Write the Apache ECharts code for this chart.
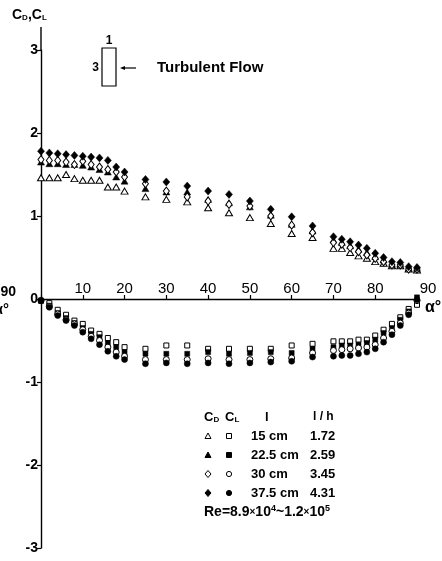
<!DOCTYPE html>
<html>
<head>
<meta charset="utf-8">
<script src="https://cdn.jsdelivr.net/npm/echarts@6/dist/echarts.min.js"></script>
<style>
  html, body { margin: 0; padding: 0; background: #fff; }
  #chart { width: 442px; height: 561px; }
</style>
</head>
<body>
<div id="chart"></div>
<script>
// ---- data ----
const alpha = [0, 2, 4, 6, 8, 10, 12, 14, 16, 18, 20, 25, 30, 35, 40, 45, 50, 55, 60, 65, 70, 72, 74, 76, 78, 80, 82, 84, 86, 88, 90];

// Drag coefficient C_D
const cd15  = [1.46, 1.46, 1.46, 1.50, 1.45, 1.43, 1.43, 1.43, 1.35, 1.35, 1.30, 1.23, 1.20, 1.17, 1.10, 1.04, 0.98, 0.91, 0.79, 0.74, 0.61, 0.61, 0.56, 0.52, 0.49, 0.45, 0.43, 0.40, 0.40, 0.36, 0.35];
const cd225 = [1.65, 1.63, 1.63, 1.62, 1.62, 1.61, 1.59, 1.56, 1.53, 1.47, 1.42, 1.33, 1.29, 1.29, 1.20, 1.16, 1.11, 1.01, 0.90, 0.82, 0.71, 0.68, 0.64, 0.60, 0.56, 0.51, 0.47, 0.42, 0.42, 0.37, 0.37];
const cd30  = [1.68, 1.67, 1.67, 1.65, 1.62, 1.66, 1.62, 1.59, 1.56, 1.53, 1.47, 1.39, 1.30, 1.23, 1.18, 1.14, 1.12, 1.00, 0.89, 0.80, 0.68, 0.66, 0.62, 0.57, 0.53, 0.49, 0.45, 0.41, 0.41, 0.36, 0.36];
const cd375 = [1.78, 1.76, 1.75, 1.74, 1.73, 1.72, 1.71, 1.70, 1.67, 1.59, 1.53, 1.44, 1.41, 1.36, 1.30, 1.26, 1.18, 1.08, 0.99, 0.88, 0.75, 0.72, 0.69, 0.65, 0.61, 0.55, 0.50, 0.45, 0.44, 0.39, 0.38];

// Lift coefficient C_L
const cl15  = [-0.02, -0.05, -0.13, -0.19, -0.26, -0.30, -0.38, -0.42, -0.47, -0.52, -0.58, -0.60, -0.56, -0.56, -0.60, -0.60, -0.60, -0.60, -0.56, -0.54, -0.51, -0.51, -0.51, -0.49, -0.49, -0.44, -0.37, -0.30, -0.22, -0.12, -0.07];
const cl225 = [-0.02, -0.08, -0.17, -0.23, -0.29, -0.35, -0.42, -0.46, -0.53, -0.58, -0.64, -0.66, -0.66, -0.66, -0.64, -0.66, -0.65, -0.64, -0.65, -0.60, -0.58, -0.56, -0.56, -0.55, -0.53, -0.49, -0.41, -0.35, -0.25, -0.15, 0.02];
const cl30  = [-0.02, -0.09, -0.18, -0.25, -0.30, -0.37, -0.45, -0.50, -0.58, -0.64, -0.69, -0.73, -0.73, -0.73, -0.72, -0.73, -0.73, -0.72, -0.71, -0.65, -0.62, -0.61, -0.60, -0.59, -0.58, -0.55, -0.47, -0.39, -0.29, -0.17, -0.02];
const cl375 = [-0.02, -0.10, -0.20, -0.26, -0.32, -0.40, -0.48, -0.55, -0.63, -0.69, -0.73, -0.78, -0.77, -0.78, -0.77, -0.78, -0.77, -0.76, -0.75, -0.70, -0.69, -0.68, -0.68, -0.66, -0.64, -0.60, -0.52, -0.43, -0.32, -0.19, -0.01];

const xTicks = [10, 20, 30, 40, 50, 60, 70, 80, 90];
const yTicks = [-3, -2, -1, 0, 1, 2, 3];

const legendRows = [
  { l: '15 cm',   lh: '1.72' },
  { l: '22.5 cm', lh: '2.59' },
  { l: '30 cm',   lh: '3.45' },
  { l: '37.5 cm', lh: '4.31' }
];

// ---- build ----
const FONT = 'Liberation Sans, Arial, sans-serif';
const pts = vals => alpha.map((a, i) => [a, vals[i]]);
const openStyle  = { color: '#fff', borderColor: '#000', borderWidth: 1, opacity: 1 };
const fillStyle  = { color: '#000', borderColor: '#000', borderWidth: 0.5, opacity: 1 };

function sc(name, vals, symbol, size, style) {
  return {
    type: 'scatter', name, data: pts(vals), symbol, symbolSize: size,
    itemStyle: style, emphasis: { disabled: true }, silent: true
  };
}

const chart = echarts.init(document.getElementById('chart'), null, { renderer: 'canvas' });

// legend marker helpers (pixel decorations)
function tri(cx, cy, filled) {
  return { type: 'polygon', shape: { points: [[cx, cy - 3], [cx + 3, cy + 2.5], [cx - 3, cy + 2.5]] },
           style: { fill: filled ? '#000' : '#fff', stroke: '#000', lineWidth: 1 } };
}
function sq(cx, cy, filled) {
  return { type: 'rect', shape: { x: cx - 2.5, y: cy - 2.5, width: 5, height: 5 },
           style: { fill: filled ? '#000' : '#fff', stroke: '#000', lineWidth: 1 } };
}
function dia(cx, cy, filled) {
  return { type: 'polygon', shape: { points: [[cx, cy - 3.5], [cx + 3, cy], [cx, cy + 3.5], [cx - 3, cy]] },
           style: { fill: filled ? '#000' : '#fff', stroke: '#000', lineWidth: 1 } };
}
function circ(cx, cy, filled) {
  return { type: 'circle', shape: { cx, cy, r: 2.6 },
           style: { fill: filled ? '#000' : '#fff', stroke: '#000', lineWidth: 1 } };
}
function txt(x, y, text, opts) {
  return Object.assign({ type: 'text', x, y,
    style: Object.assign({ text, font: '13px ' + FONT, fill: '#000', textVerticalAlign: 'middle' }, (opts || {})) });
}

const rowY = [436, 455, 474, 493];
const cdMk = [tri, tri, dia, dia];
const clMk = [sq, sq, circ, circ];
const legendGraphics = [];
legendGraphics.push({
  type: 'text', x: 204, y: 417,
  style: { text: '{a|C}{b|D}', rich: { a: { font: 'bold 13px ' + FONT }, b: { font: 'bold 8px ' + FONT, verticalAlign: 'bottom' } }, fill: '#000', textVerticalAlign: 'middle' }
});
legendGraphics.push({
  type: 'text', x: 225, y: 417,
  style: { text: '{a|C}{b|L}', rich: { a: { font: 'bold 13px ' + FONT }, b: { font: 'bold 8px ' + FONT, verticalAlign: 'bottom' } }, fill: '#000', textVerticalAlign: 'middle' }
});
legendGraphics.push(txt(265, 417, 'l', { font: 'bold 13px ' + FONT }));
legendGraphics.push(txt(313, 417, 'l / h', { font: 'bold 12px ' + FONT }));
legendRows.forEach((r, i) => {
  legendGraphics.push(cdMk[i](208, rowY[i], i % 2 === 1));
  legendGraphics.push(clMk[i](229, rowY[i], i % 2 === 1));
  legendGraphics.push(txt(251, rowY[i], r.l, { font: 'bold 13px ' + FONT }));
  legendGraphics.push(txt(310, rowY[i], r.lh, { font: 'bold 13px ' + FONT }));
});
legendGraphics.push({
  type: 'text', x: 204, y: 512,
  style: {
    text: '{a|Re=8.9}{s|×}{a|10}{p|4}{a|~1.2}{s|×}{a|10}{p|5}',
    rich: {
      a: { font: 'bold 14px ' + FONT },
      s: { font: 'bold 10px ' + FONT },
      p: { font: 'bold 9px ' + FONT, verticalAlign: 'top', padding: [0, 0, 6, 0] }
    },
    fill: '#000', textVerticalAlign: 'middle'
  }
});

const option = {
  animation: false,
  backgroundColor: '#fff',
  grid: { left: 41, right: 25, top: 50, bottom: 13, containLabel: false },
  xAxis: {
    type: 'value', min: 0, max: 90, interval: 10,
    position: 'bottom', offset: -249,
    axisLine: { onZero: false, lineStyle: { color: '#000', width: 1.4 } },
    axisTick: { show: true, inside: true, length: 4, lineStyle: { color: '#000', width: 1.2 } },
    axisLabel: {
      inside: true, margin: 3, color: '#000', fontFamily: FONT, fontSize: 15,
      formatter: v => (xTicks.indexOf(v) < 0 ? '' : (v === 90 ? '{r|90}' : String(v))),
      rich: { r: { fontFamily: FONT, fontSize: 15, color: '#000', padding: [0, 0, 0, 22] } }
    },
    splitLine: { show: false }
  },
  yAxis: {
    type: 'value', min: -3, max: 3, interval: 1,
    axisLine: { show: true, onZero: false, lineStyle: { color: '#000', width: 1.4 } },
    axisTick: { show: true, inside: false, length: 4, lineStyle: { color: '#000', width: 1.2 } },
    axisLabel: {
      margin: 3, color: '#000', fontFamily: FONT, fontSize: 14, fontWeight: 'bold',
      formatter: v => (yTicks.indexOf(v) < 0 ? '' : (v < 0 ? '-' + Math.abs(v) : String(v)))
    },
    splitLine: { show: false }
  },
  series: [
    sc('CD 15cm',   cd15,  'triangle', [7, 6], openStyle),
    sc('CD 22.5cm', cd225, 'triangle', [7, 6], fillStyle),
    sc('CD 30cm',   cd30,  'diamond',  [6, 8], openStyle),
    sc('CD 37.5cm', cd375, 'diamond',  [7, 8], fillStyle),
    sc('CL 15cm',   cl15,  'rect',     [5, 5], openStyle),
    sc('CL 22.5cm', cl225, 'rect',     [5, 5], fillStyle),
    sc('CL 30cm',   cl30,  'circle',   6,      openStyle),
    sc('CL 37.5cm', cl375, 'circle',   6,      fillStyle)
  ],
  graphic: [
    // y-axis extension above 3
    { type: 'line', shape: { x1: 41, y1: 27, x2: 41, y2: 50 }, style: { stroke: '#000', lineWidth: 1.4 } },
    // title C_D, C_L
    { type: 'text', x: 12, y: 15,
      style: { text: '{a|C}{b|D}{a|,C}{b|L}',
        rich: { a: { font: 'bold 14px ' + FONT }, b: { font: 'bold 8px ' + FONT, verticalAlign: 'bottom' } },
        fill: '#000', textVerticalAlign: 'middle' } },
    // axis name alpha
    txt(425, 308, 'α°', { font: 'bold 16px ' + FONT }),
    // fragments of neighbouring figure at the left edge
    txt(16, 292, '90', { font: 'bold 14px ' + FONT, textAlign: 'right' }),
    txt(9, 310, 'α°', { font: 'bold 15px ' + FONT, textAlign: 'right' }),
    // inset: plate in flow
    { type: 'rect', shape: { x: 102, y: 48, width: 14, height: 38 }, style: { fill: 'none', stroke: '#000', lineWidth: 1.2 } },
    txt(109, 41, '1', { font: 'bold 12px ' + FONT, textAlign: 'center' }),
    txt(99, 68, '3', { font: 'bold 12px ' + FONT, textAlign: 'right' }),
    { type: 'line', shape: { x1: 136, y1: 68, x2: 122, y2: 68 }, style: { stroke: '#000', lineWidth: 1.2 } },
    { type: 'polygon', shape: { points: [[120, 68], [125, 66], [125, 70]] }, style: { fill: '#000' } },
    txt(157, 68, 'Turbulent Flow', { font: 'bold 15px ' + FONT }),
    ...legendGraphics
  ]
};
chart.setOption(option);
</script>
</body>
</html>
